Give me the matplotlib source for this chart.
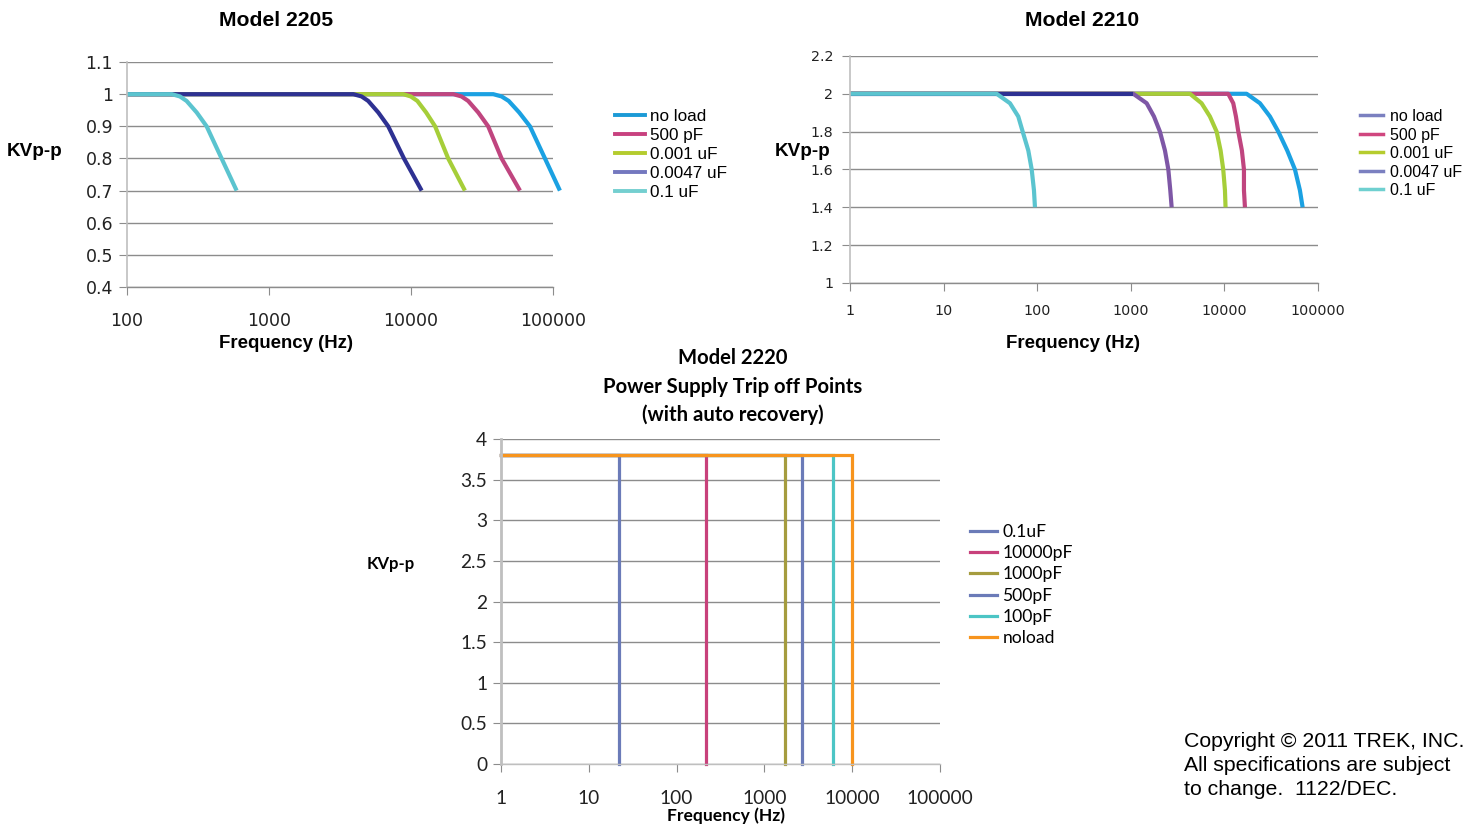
import matplotlib
matplotlib.use("Agg")
import matplotlib.pyplot as plt
from matplotlib.lines import Line2D

plt.rcParams['font.family'] = ['Liberation Sans', 'DejaVu Sans']

# ---- Model 2205 data ----
labels_2205 = ['no load', '500 pF', '0.001 uF', '0.0047 uF', '0.1 uF']
colors_2205 = ['#1BA1E2', '#C0457F', '#A6CE39', '#2E3192', '#5BC4CF']
legend_colors_2205 = ['#1B9AD6', '#C8417F', '#B4CC2E', '#7478BF', '#74CFD0']
freq_2205 = [
    [100, 38000, 43500, 48800, 57900, 68900, 87900, 112000],
    [100, 19900, 22700, 25300, 29800, 35000, 43500, 58600],
    [100, 8830, 9970, 11100, 12800, 14800, 18300, 24000],
    [100, 3930, 4490, 5000, 5890, 6920, 8930, 11900],
    [100, 207, 236, 263, 310, 364, 464, 592],
]
kv_2205 = [1.0, 1.0, 0.993, 0.979, 0.943, 0.9, 0.8, 0.7]

# ---- Model 2210 data ----
labels_2210 = ['no load', '500 pF', '0.001 uF', '0.0047 uF', '0.1 uF']
colors_2210 = ['#1BA1E2', '#C0457F', '#A6CE39', '#7E57A6', '#5BC4CF']
legend_colors_2210 = ['#7B80C0', '#D0467F', '#B5CC2E', '#7B80C0', '#6FD0D0']
flat_color_2210 = '#2E3192'
freq_2210 = [
    [1, 17300, 24000, 30700, 37700, 47000, 56800, 64200, 68600],
    [1, 11000, 12450, 13300, 14100, 15400, 16200, 16200, 16600],
    [1, 4290, 5710, 7010, 8270, 9120, 9730, 10150, 10300],
    [1, 1063, 1479, 1770, 2050, 2320, 2520, 2645, 2735],
    [1, 36.9, 51.2, 62.8, 70.0, 80.4, 87.4, 92.4, 94.7],
]
kv_2210 = [2.0, 2.0, 1.95, 1.88, 1.8, 1.7, 1.6, 1.49, 1.4]

# ---- Model 2220 data ----
labels_2220 = ['0.1uF', '10000pF', '1000pF', '500pF', '100pF', 'noload']
colors_2220 = ['#6B7BB8', '#C8417B', '#A59C3E', '#6B7BB8', '#4CC5C5', '#F7941D']
trip_freq_2220 = [22, 216, 1720, 2700, 6000, 10000]
trip_kv_2220 = 3.8

grid_c = '#8C8C8C'
axis_c = '#BFBFBF'
tick_font = ['DejaVu Sans']
calibri_like = ['Lato', 'DejaVu Sans']

fig = plt.figure(figsize=(14.78, 8.25), dpi=100)


def style_axes(ax, xticks, xlabels, yticks, ylabels, tsize, family):
    ax.set_xscale('log')
    ax.minorticks_off()
    ax.set_xticks(xticks)
    ax.set_xticklabels(xlabels)
    ax.set_yticks(yticks)
    ax.set_yticklabels(ylabels)
    for s in ['top', 'right']:
        ax.spines[s].set_visible(False)
    ax.spines['left'].set_color(axis_c)
    ax.spines['bottom'].set_color(grid_c)
    ax.spines['left'].set_linewidth(1.2)
    ax.spines['bottom'].set_linewidth(1.0)
    ax.yaxis.grid(True, color=grid_c, linewidth=1.0)
    ax.set_axisbelow(True)
    ax.tick_params(axis='both', direction='out', length=6, color=grid_c,
                   labelsize=tsize, labelcolor='#222222')
    ax.tick_params(axis='x', pad=12)
    ax.tick_params(axis='y', pad=4)
    for t in ax.get_xticklabels() + ax.get_yticklabels():
        t.set_family(family)


# ---- chart 1 ----
ax1 = fig.add_axes([0.0859, 0.6521, 0.2882, 0.2727])
for f, c in zip(freq_2205, colors_2205):
    ax1.plot(f, kv_2205, color=c, lw=3.0, clip_on=False,
             solid_capstyle='butt')
ax1.set_xlim(100, 100000)
ax1.set_ylim(0.4, 1.1)
style_axes(ax1, [100, 1000, 10000, 100000], ['100', '1000', '10000', '100000'],
           [0.4, 0.5, 0.6, 0.7, 0.8, 0.9, 1.0, 1.1],
           ['0.4', '0.5', '0.6', '0.7', '0.8', '0.9', '1', '1.1'], 12.5,
           tick_font)
ax1.tick_params(axis='x', pad=12)
h1 = [Line2D([], [], color=c, lw=2.8) for c in legend_colors_2205]
ax1.legend(h1, labels_2205, loc='upper left',
           bbox_to_anchor=(615 / 1478, 1 - 109 / 825),
           bbox_transform=fig.transFigure, frameon=False, fontsize=12.3,
           handlelength=1.75, handletextpad=0.3, labelspacing=0.23,
           borderpad=0, borderaxespad=0)
fig.text(276 / 1478, 1 - 20 / 825, 'Model 2205', ha='center', va='center',
         fontsize=15.2, fontweight='bold')
fig.text(35 / 1478, 1 - 152 / 825, 'KVp-p', ha='center', va='center',
         fontsize=13.6, fontweight='bold')
fig.text(286 / 1478, 1 - 344 / 825, 'Frequency (Hz)', ha='center', va='center',
         fontsize=13.4, fontweight='bold')

# ---- chart 2 ----
ax2 = fig.add_axes([0.5751, 0.6570, 0.3166, 0.2752])
for f, lab, c in zip(freq_2210, labels_2210, colors_2210):
    ax2.plot(f, kv_2210, color=c, lw=3.0, clip_on=False, solid_capstyle='butt')
    if lab == '0.0047 uF':
        ax2.plot(f[:2], kv_2210[:2], color=flat_color_2210, lw=3.0,
                 solid_capstyle='butt')
ax2.set_xlim(1, 100000)
ax2.set_ylim(1, 2.2)
style_axes(ax2, [1, 10, 100, 1000, 10000, 100000],
           ['1', '10', '100', '1000', '10000', '100000'],
           [1.0, 1.2, 1.4, 1.6, 1.8, 2.0, 2.2],
           ['1', '1.2', '1.4', '1.6', '1.8', '2', '2.2'], 10.3, tick_font)
ax2.tick_params(axis='x', pad=9)
ax2.tick_params(axis='y', pad=6)
h2 = [Line2D([], [], color=c, lw=2.5) for c in legend_colors_2210]
ax2.legend(h2, labels_2210, loc='upper left',
           bbox_to_anchor=(1360 / 1478, 1 - 109 / 825),
           bbox_transform=fig.transFigure, frameon=False, fontsize=11.5,
           handlelength=1.45, handletextpad=0.4, labelspacing=0.22,
           borderpad=0, borderaxespad=0)
fig.text(1082 / 1478, 1 - 20 / 825, 'Model 2210', ha='center', va='center',
         fontsize=15.2, fontweight='bold')
fig.text(803 / 1478, 1 - 152 / 825, 'KVp-p', ha='center', va='center',
         fontsize=13.6, fontweight='bold')
fig.text(1073 / 1478, 1 - 344 / 825, 'Frequency (Hz)', ha='center', va='center',
         fontsize=13.4, fontweight='bold')

# ---- chart 3 ----
ax3 = fig.add_axes([0.3390, 0.0739, 0.2970, 0.3939])
for f, lab, c in zip(trip_freq_2220, labels_2220, colors_2220):
    ax3.plot([1, f, f], [trip_kv_2220, trip_kv_2220, 0], color=c, lw=2.3,
             label=lab, solid_joinstyle='miter', clip_on=False)
ax3.set_xlim(1, 100000)
ax3.set_ylim(0, 4)
style_axes(ax3, [1, 10, 100, 1000, 10000, 100000],
           ['1', '10', '100', '1000', '10000', '100000'],
           [0, 0.5, 1, 1.5, 2, 2.5, 3, 3.5, 4],
           ['0', '0.5', '1', '1.5', '2', '2.5', '3', '3.5', '4'], 13.8,
           calibri_like)
ax3.tick_params(axis='x', pad=13)
ax3.spines['bottom'].set_color(axis_c)
ax3.spines['left'].set_linewidth(2)
ax3.legend(loc='upper left', bbox_to_anchor=(970 / 1478, 1 - 524 / 825),
           bbox_transform=fig.transFigure, frameon=False,
           prop={'family': calibri_like, 'size': 12.6},
           handlelength=1.55, handletextpad=0.3, labelspacing=0.3,
           borderpad=0, borderaxespad=0)
for txt, y in [('Model 2220', 358), ('Power Supply Trip off Points', 387),
               ('(with auto recovery)', 415)]:
    fig.text(733 / 1478, 1 - y / 825, txt, ha='center', va='center',
             fontsize=14.6, fontweight='bold', family=calibri_like)
fig.text(391 / 1478, 1 - 564 / 825, 'KVp-p', ha='center', va='center',
         fontsize=12, fontweight='bold', family=calibri_like)
fig.text(726 / 1478, 1 - 816 / 825, 'Frequency (Hz)', ha='center', va='center',
         fontsize=12.6, fontweight='bold', family=calibri_like)

# copyright
fig.text(1184 / 1478, 1 - 732 / 825,
         'Copyright \u00a9 2011 TREK, INC.\nAll specifications are subject\nto change.  1122/DEC.',
         ha='left', va='top', fontsize=15.3, linespacing=1.34)

fig.savefig('out.png', dpi=100)
